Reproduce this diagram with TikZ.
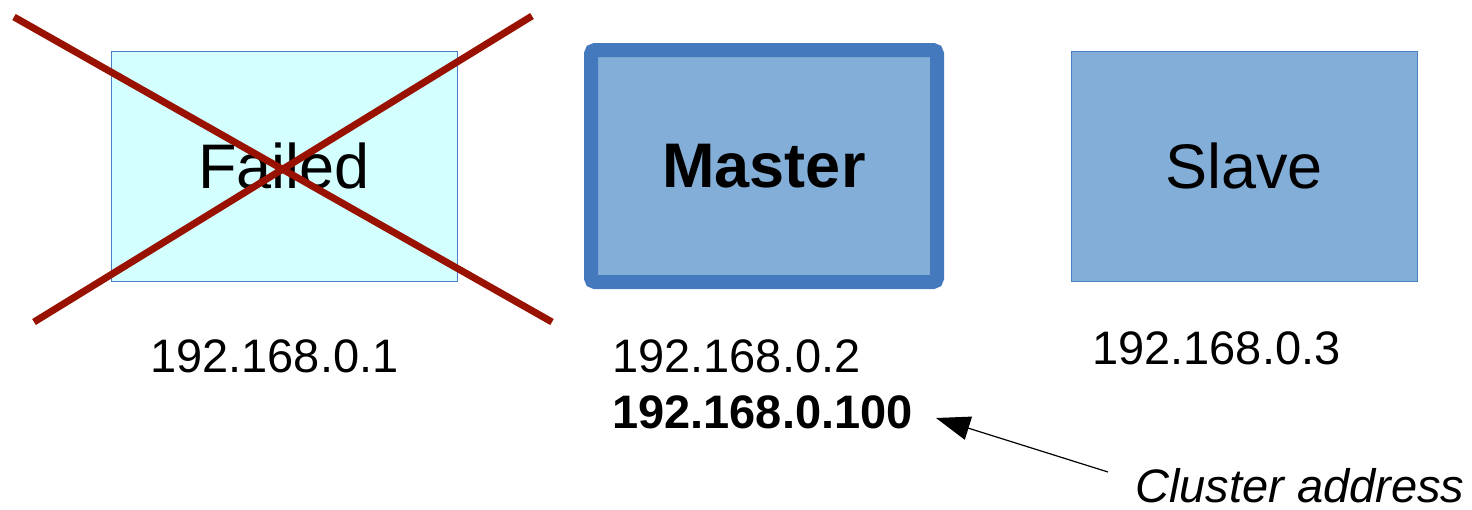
\documentclass[tikz,border=0pt]{standalone}
\usepackage{fontspec}
\setmainfont{Liberation Sans}
\usetikzlibrary{arrows.meta}
\definecolor{failfill}{HTML}{D4FFFF}
\definecolor{thinedge}{HTML}{4A7FC8}
\definecolor{boxfill}{HTML}{83AED8}
\definecolor{masteredge}{HTML}{4479BE}
\definecolor{crossred}{HTML}{991100}
\tikzset{
  srvbox/.style={draw=thinedge, line width=1pt, minimum width=346pt, minimum height=230pt, inner sep=0pt,
    font=\fontsize{63}{70}\selectfont},
  masterbox/.style={draw=masteredge, fill=boxfill, line width=14pt, rounded corners=4pt,
    minimum width=346pt, minimum height=232pt, inner sep=0pt, font=\fontsize{63}{70}\selectfont\bfseries},
  ip/.style={anchor=base west, inner sep=0pt, font=\fontsize{47}{56}\selectfont},
  crossline/.style={draw=crossred, line width=7pt},
  pointer/.style={draw=black, line width=1.2pt, -{Triangle[length=34pt,width=24pt]}}
}
\begin{document}
\begin{tikzpicture}[x=1pt,y=-1pt]
\useasboundingbox (0,0) rectangle (1472,509);
% boxes
\node[srvbox, fill=failfill] (failed) at (284,166) {Failed};
\node[masterbox] (master) at (764,166) {Master};
\node[srvbox, fill=boxfill] (slave) at (1244,166) {Slave};
% cross
\coordinate (c1a) at (14,17);
\coordinate (c1b) at (552,322);
\coordinate (c2a) at (34,322);
\coordinate (c2b) at (532,16);
\draw[crossline] (c1a) -- (c1b);
\draw[crossline] (c2a) -- (c2b);
% addresses
\node[ip] (ip1) at (150,372) {192.168.0.1};
\node[ip] (ip2) at (612,372) {192.168.0.2};
\node[ip, font=\fontsize{47}{56}\selectfont\bfseries] (ip100) at (612,428) {192.168.0.100};
\node[ip] (ip3) at (1092,364) {192.168.0.3};
\node[ip, font=\fontsize{47}{56}\selectfont\itshape] (cluster) at (1135,502) {Cluster address};
% pointer
\coordinate (pstart) at (1108,472);
\coordinate (pend) at (936,418);
\draw[pointer] (pstart) -- (pend);
\end{tikzpicture}
\end{document}
